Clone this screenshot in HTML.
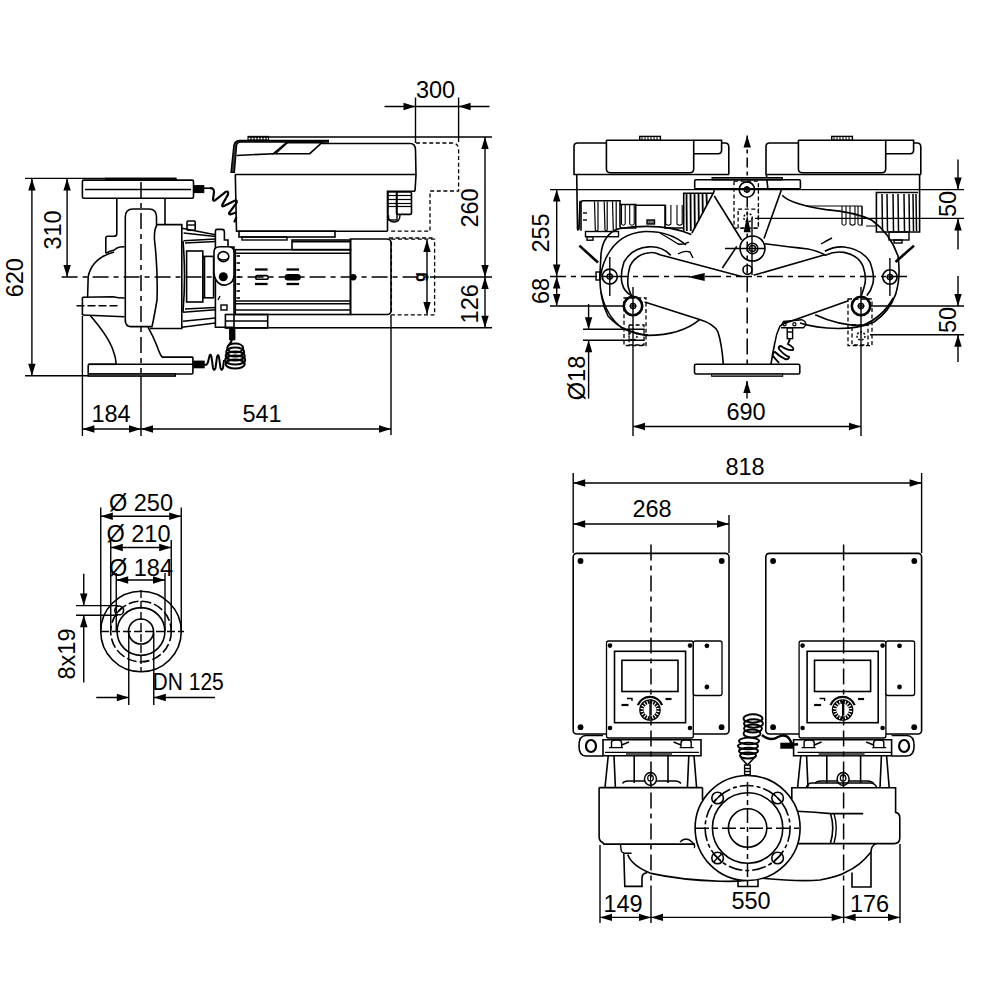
<!DOCTYPE html>
<html><head><meta charset="utf-8"><style>
html,body{margin:0;padding:0;background:#fff;width:1000px;height:1000px;overflow:hidden}
svg{display:block}
text{font-family:"Liberation Sans",sans-serif;fill:#000;stroke:none}
</style></head><body>
<svg width="1000" height="1000" viewBox="0 0 1000 1000" stroke="#000" fill="none" stroke-linecap="butt">
<line x1="25" y1="178.4" x2="176" y2="178.4" stroke-width="1.4"/>
<line x1="25" y1="375.7" x2="176" y2="375.7" stroke-width="1.4"/>
<line x1="31.9" y1="178.4" x2="31.9" y2="375.7" stroke-width="1.4"/>
<polygon points="31.9,178.4 28.2,190.4 35.6,190.4" fill="#000" stroke="none"/>
<polygon points="31.9,375.7 28.2,363.7 35.6,363.7" fill="#000" stroke="none"/>
<text x="0" y="0" font-size="23.5" text-anchor="middle" transform="translate(23.2,277.7) rotate(-90)">620</text>
<line x1="67.1" y1="178.4" x2="67.1" y2="277" stroke-width="1.4"/>
<polygon points="67.1,178.4 63.4,190.4 70.8,190.4" fill="#000" stroke="none"/>
<polygon points="67.1,277.0 63.4,265.0 70.8,265.0" fill="#000" stroke="none"/>
<text x="0" y="0" font-size="23.5" text-anchor="middle" transform="translate(61.4,230.0) rotate(-90)">310</text>
<line x1="61.6" y1="277" x2="430" y2="277" stroke-width="1.5" stroke-dasharray="16,5,5,5"/>
<line x1="430" y1="277" x2="492" y2="277" stroke-width="1.4"/>
<line x1="384.5" y1="106.5" x2="489.5" y2="106.5" stroke-width="1.4"/>
<polygon points="415.5,106.5 403.5,102.8 403.5,110.2" fill="#000" stroke="none"/>
<polygon points="458.6,106.5 470.6,102.8 470.6,110.2" fill="#000" stroke="none"/>
<line x1="415.5" y1="97.5" x2="415.5" y2="143" stroke-width="1.4"/>
<line x1="458.6" y1="97.5" x2="458.6" y2="142" stroke-width="1.4"/>
<text x="435.5" y="98.4" font-size="23.5" text-anchor="middle">300</text>
<line x1="248" y1="137" x2="492" y2="137" stroke-width="1.4"/>
<line x1="485" y1="137" x2="485" y2="327.8" stroke-width="1.4"/>
<polygon points="485.0,137.0 481.3,149.0 488.7,149.0" fill="#000" stroke="none"/>
<polygon points="485.0,277.0 481.3,265.0 488.7,265.0" fill="#000" stroke="none"/>
<polygon points="485.0,277.0 481.3,289.0 488.7,289.0" fill="#000" stroke="none"/>
<polygon points="485.0,327.8 481.3,315.8 488.7,315.8" fill="#000" stroke="none"/>
<text x="0" y="0" font-size="23.5" text-anchor="middle" transform="translate(478.4,208.0) rotate(-90)">260</text>
<text x="0" y="0" font-size="23.5" text-anchor="middle" transform="translate(478.4,303.8) rotate(-90)">126</text>
<line x1="226" y1="327.8" x2="492" y2="327.8" stroke-width="1.4"/>
<line x1="82.4" y1="316" x2="82.4" y2="436" stroke-width="1.4"/>
<line x1="141" y1="374" x2="141" y2="436" stroke-width="1.4"/>
<line x1="391" y1="315" x2="391" y2="435" stroke-width="1.4"/>
<line x1="82.4" y1="429" x2="391" y2="429" stroke-width="1.4"/>
<polygon points="82.4,429.0 94.4,425.3 94.4,432.7" fill="#000" stroke="none"/>
<polygon points="141.0,429.0 129.0,425.3 129.0,432.7" fill="#000" stroke="none"/>
<polygon points="141.0,429.0 153.0,425.3 153.0,432.7" fill="#000" stroke="none"/>
<polygon points="391.0,429.0 379.0,425.3 379.0,432.7" fill="#000" stroke="none"/>
<text x="111" y="422.4" font-size="23.5" text-anchor="middle">184</text>
<text x="262" y="422.4" font-size="23.5" text-anchor="middle">541</text>
<rect x="391.4" y="239.2" width="43.2" height="75.6" rx="0" stroke-width="1.3" fill="none" stroke-dasharray="4,2.6"/>
<line x1="427" y1="240" x2="427" y2="314" stroke-width="1.4"/>
<polygon points="427.0,240.0 423.3,252.0 430.7,252.0" fill="#000" stroke="none"/>
<polygon points="427.0,314.0 423.3,302.0 430.7,302.0" fill="#000" stroke="none"/>
<text x="0" y="0" font-size="16" font-weight="bold" text-anchor="middle" transform="translate(424.5,277) rotate(-90)">g</text>
<line x1="550" y1="189.6" x2="964" y2="189.6" stroke-width="1.4"/>
<line x1="556.7" y1="189.6" x2="556.7" y2="306" stroke-width="1.4"/>
<polygon points="556.7,189.6 553.0,201.6 560.4,201.6" fill="#000" stroke="none"/>
<polygon points="556.7,276.6 553.0,264.6 560.4,264.6" fill="#000" stroke="none"/>
<polygon points="556.7,276.6 553.0,288.6 560.4,288.6" fill="#000" stroke="none"/>
<polygon points="556.7,306.0 553.0,294.0 560.4,294.0" fill="#000" stroke="none"/>
<text x="0" y="0" font-size="23.5" text-anchor="middle" transform="translate(549.4,233.0) rotate(-90)">255</text>
<text x="0" y="0" font-size="23.5" text-anchor="middle" transform="translate(549.4,291.0) rotate(-90)">68</text>
<line x1="550" y1="276.6" x2="911" y2="276.6" stroke-width="1.5" stroke-dasharray="16,5,5,5"/>
<line x1="550" y1="306" x2="625" y2="306" stroke-width="1.4"/>
<line x1="755" y1="218.4" x2="964" y2="218.4" stroke-width="1.4"/>
<line x1="958" y1="159.6" x2="958" y2="189.6" stroke-width="1.4"/>
<polygon points="958.0,189.6 954.3,177.6 961.7,177.6" fill="#000" stroke="none"/>
<line x1="958" y1="218.4" x2="958" y2="249.6" stroke-width="1.4"/>
<polygon points="958.0,218.4 954.3,230.4 961.7,230.4" fill="#000" stroke="none"/>
<text x="0" y="0" font-size="23.5" text-anchor="middle" transform="translate(956.4,204.0) rotate(-90)">50</text>
<line x1="870" y1="306" x2="964" y2="306" stroke-width="1.4"/>
<line x1="870" y1="334.8" x2="964" y2="334.8" stroke-width="1.4"/>
<line x1="958" y1="276" x2="958" y2="306" stroke-width="1.4"/>
<polygon points="958.0,306.0 954.3,294.0 961.7,294.0" fill="#000" stroke="none"/>
<line x1="958" y1="334.8" x2="958" y2="362" stroke-width="1.4"/>
<polygon points="958.0,334.8 954.3,346.8 961.7,346.8" fill="#000" stroke="none"/>
<text x="0" y="0" font-size="23.5" text-anchor="middle" transform="translate(956.4,320.0) rotate(-90)">50</text>
<line x1="583" y1="329.3" x2="644.7" y2="329.3" stroke-width="1.4"/>
<line x1="583" y1="340.3" x2="644.7" y2="340.3" stroke-width="1.4"/>
<line x1="588.6" y1="304" x2="588.6" y2="329.3" stroke-width="1.4"/>
<polygon points="588.6,329.3 584.9,317.3 592.3,317.3" fill="#000" stroke="none"/>
<line x1="588.6" y1="340.3" x2="588.6" y2="398.6" stroke-width="1.4"/>
<polygon points="588.6,340.3 584.9,352.3 592.3,352.3" fill="#000" stroke="none"/>
<text x="0" y="0" font-size="23.5" text-anchor="middle" transform="translate(585.4,378.0) rotate(-90)">Ø18</text>
<line x1="633" y1="306" x2="633" y2="436" stroke-width="1.4"/>
<line x1="861" y1="306" x2="861" y2="436" stroke-width="1.4"/>
<line x1="633" y1="426.5" x2="861" y2="426.5" stroke-width="1.4"/>
<polygon points="633.0,426.5 645.0,422.8 645.0,430.2" fill="#000" stroke="none"/>
<polygon points="861.0,426.5 849.0,422.8 849.0,430.2" fill="#000" stroke="none"/>
<text x="746" y="420.4" font-size="23.5" text-anchor="middle">690</text>
<line x1="747" y1="381" x2="747" y2="398.6" stroke-width="1.4"/>
<polygon points="747.0,381.0 743.3,393.0 750.7,393.0" fill="#000" stroke="none"/>
<line x1="747.2" y1="135.4" x2="747.2" y2="177.7" stroke-width="1.5" stroke-dasharray="10,4,4,4"/>
<polygon points="747.2,135.4 743.5,147.4 750.9,147.4" fill="#000" stroke="none"/>
<line x1="573.2" y1="473" x2="573.2" y2="553" stroke-width="1.4"/>
<line x1="921.6" y1="473" x2="921.6" y2="553" stroke-width="1.4"/>
<line x1="729" y1="515" x2="729" y2="553" stroke-width="1.4"/>
<line x1="573.2" y1="483" x2="921.6" y2="483" stroke-width="1.4"/>
<polygon points="573.2,483.0 585.2,479.3 585.2,486.7" fill="#000" stroke="none"/>
<polygon points="921.6,483.0 909.6,479.3 909.6,486.7" fill="#000" stroke="none"/>
<line x1="573.2" y1="524" x2="729" y2="524" stroke-width="1.4"/>
<polygon points="573.2,524.0 585.2,520.3 585.2,527.7" fill="#000" stroke="none"/>
<polygon points="729.0,524.0 717.0,520.3 717.0,527.7" fill="#000" stroke="none"/>
<text x="745" y="474.9" font-size="23.5" text-anchor="middle">818</text>
<text x="652" y="516.9" font-size="23.5" text-anchor="middle">268</text>
<line x1="600" y1="845" x2="600" y2="923" stroke-width="1.4"/>
<line x1="900" y1="844" x2="900" y2="923" stroke-width="1.4"/>
<line x1="651" y1="887" x2="651" y2="923" stroke-width="1.4"/>
<line x1="843.6" y1="887" x2="843.6" y2="923" stroke-width="1.4"/>
<line x1="600" y1="917.4" x2="900" y2="917.4" stroke-width="1.4"/>
<polygon points="600.0,917.4 612.0,913.7 612.0,921.1" fill="#000" stroke="none"/>
<polygon points="651.0,917.4 639.0,913.7 639.0,921.1" fill="#000" stroke="none"/>
<polygon points="651.0,917.4 663.0,913.7 663.0,921.1" fill="#000" stroke="none"/>
<polygon points="843.6,917.4 831.6,913.7 831.6,921.1" fill="#000" stroke="none"/>
<polygon points="843.6,917.4 855.6,913.7 855.6,921.1" fill="#000" stroke="none"/>
<polygon points="900.0,917.4 888.0,913.7 888.0,921.1" fill="#000" stroke="none"/>
<text x="623" y="911.9" font-size="23.5" text-anchor="middle">149</text>
<text x="751" y="909.4" font-size="23.5" text-anchor="middle">550</text>
<text x="869.5" y="911.9" font-size="23.5" text-anchor="middle">176</text>
<line x1="100.75" y1="507.5" x2="100.75" y2="631" stroke-width="1.4"/>
<line x1="181.25" y1="507.5" x2="181.25" y2="631" stroke-width="1.4"/>
<line x1="100.75" y1="516.25" x2="181.25" y2="516.25" stroke-width="1.4"/>
<polygon points="100.8,516.2 112.8,512.5 112.8,520.0" fill="#000" stroke="none"/>
<polygon points="181.2,516.2 169.2,512.5 169.2,520.0" fill="#000" stroke="none"/>
<line x1="110.75" y1="540" x2="110.75" y2="631" stroke-width="1.4"/>
<line x1="171.25" y1="540" x2="171.25" y2="631" stroke-width="1.4"/>
<line x1="110.75" y1="547.5" x2="171.25" y2="547.5" stroke-width="1.4"/>
<polygon points="110.8,547.5 122.8,543.8 122.8,551.2" fill="#000" stroke="none"/>
<polygon points="171.2,547.5 159.2,543.8 159.2,551.2" fill="#000" stroke="none"/>
<line x1="116.25" y1="573" x2="116.25" y2="631" stroke-width="1.4"/>
<line x1="165" y1="573" x2="165" y2="631" stroke-width="1.4"/>
<line x1="116.25" y1="580" x2="165" y2="580" stroke-width="1.4"/>
<polygon points="116.2,580.0 128.2,576.3 128.2,583.7" fill="#000" stroke="none"/>
<polygon points="165.0,580.0 153.0,576.3 153.0,583.7" fill="#000" stroke="none"/>
<text x="141" y="511.4" font-size="23.5" text-anchor="middle">Ø 250</text>
<text x="138.5" y="541.9" font-size="23.5" text-anchor="middle">Ø 210</text>
<text x="141" y="575.9" font-size="23.5" text-anchor="middle">Ø 184</text>
<line x1="76" y1="605.6" x2="118" y2="605.6" stroke-width="1.4"/>
<line x1="76" y1="615.3" x2="118" y2="615.3" stroke-width="1.4"/>
<line x1="83.75" y1="573.75" x2="83.75" y2="605.6" stroke-width="1.4"/>
<polygon points="83.8,605.6 80.0,593.6 87.5,593.6" fill="#000" stroke="none"/>
<line x1="83.75" y1="615.3" x2="83.75" y2="682.5" stroke-width="1.4"/>
<polygon points="83.8,615.3 80.0,627.3 87.5,627.3" fill="#000" stroke="none"/>
<text x="0" y="0" font-size="23.5" text-anchor="middle" transform="translate(75.4,654.0) rotate(-90)">8x19</text>
<line x1="128.75" y1="632.5" x2="128.75" y2="705" stroke-width="1.4"/>
<line x1="153.75" y1="632.5" x2="153.75" y2="705" stroke-width="1.4"/>
<line x1="96.25" y1="697.5" x2="128.75" y2="697.5" stroke-width="1.4"/>
<polygon points="128.8,697.5 116.8,693.8 116.8,701.2" fill="#000" stroke="none"/>
<line x1="153.75" y1="697.5" x2="215" y2="697.5" stroke-width="1.4"/>
<polygon points="153.8,697.5 165.8,693.8 165.8,701.2" fill="#000" stroke="none"/>
<text x="152.5" y="690.4" font-size="23.5" textLength="71.3" lengthAdjust="spacingAndGlyphs">DN 125</text>
<circle cx="141" cy="631.5" r="40.25" stroke-width="1.6" fill="none"/>
<circle cx="141" cy="631.5" r="30.3" stroke-width="1.6" fill="none" stroke-dasharray="10,3"/>
<circle cx="141" cy="631.5" r="23.9" stroke-width="1.6" fill="none"/>
<circle cx="141" cy="631.5" r="12.5" stroke-width="1.6" fill="none"/>
<circle cx="119.2" cy="610.4" r="4.4" stroke-width="1.6" fill="none"/>
<line x1="116.5" y1="613.5" x2="122" y2="607.3" stroke-width="1.4"/>
<line x1="101" y1="631.5" x2="184" y2="631.5" stroke-width="1.4" stroke-dasharray="8,3"/>
<line x1="141" y1="590" x2="141" y2="672" stroke-width="1.4" stroke-dasharray="8,3"/>
<rect x="105.8" y="178.4" width="70.2" height="1.6" rx="0" stroke-width="1.4" fill="#999"/>
<rect x="82.4" y="180.1" width="111.1" height="18.2" rx="1.5" stroke-width="1.6" fill="none"/>
<line x1="85" y1="189.5" x2="191" y2="189.5" stroke-width="1.6"/>
<path d="M116.8,198.3 V233.7 Q116.8,236.3 114,236.3 H107.5 Q105.8,236.3 105.8,238 V253.2" stroke-width="1.6" fill="none"/>
<line x1="165" y1="198.3" x2="165" y2="224.6" stroke-width="1.6"/>
<path d="M105.8,253.2 Q110,251 114.2,250 Q117,247.4 120,247 L124.6,246.7" stroke-width="1.6" fill="none"/>
<path d="M114.2,252 Q92,258 88.2,276.6 L87.6,297.3" stroke-width="1.6" fill="none"/>
<path d="M82.4,297.3 L113,296.7 Q118,298 124.6,298" stroke-width="1.6" fill="none"/>
<line x1="82.4" y1="297.3" x2="82.4" y2="315" stroke-width="1.6"/>
<line x1="82.4" y1="315" x2="124.6" y2="316.8" stroke-width="1.6"/>
<line x1="76.5" y1="305.8" x2="118" y2="305.8" stroke-width="1.4" stroke-dasharray="8,3"/>
<path d="M90.2,315.5 Q108,336 113,350 Q116,358 116.2,364.3" stroke-width="1.6" fill="none"/>
<path d="M148,327.2 Q153,336 157,346 Q160,355 162.3,357.1 H192.9" stroke-width="1.6" fill="none"/>
<path d="M88.2,364.3 H116.2" stroke-width="1.6" fill="none"/>
<rect x="88.2" y="364.3" width="104.7" height="9.7" rx="1.2" stroke-width="1.6" fill="none"/>
<line x1="192.9" y1="357.1" x2="192.9" y2="365" stroke-width="1.6"/>
<rect x="88.2" y="374" width="87.1" height="2" rx="0" stroke-width="1.4" fill="#999"/>
<path d="M125.3,322 V217 Q125.3,209 133,209 H149 Q156.5,209 156.5,217 V226 Q154,230 154.5,240 Q158,270 157,300 Q154,318 152,326.6 H131 Q125.3,326.6 125.3,320" stroke-width="1.6" fill="none"/>
<path d="M156.5,224.6 H181.8 V328.5 H150" stroke-width="1.6" fill="none"/>
<line x1="181.8" y1="228.2" x2="215.4" y2="234.8" stroke-width="1.6"/>
<line x1="183.6" y1="233" x2="215.4" y2="236.5" stroke-width="1.6"/>
<line x1="183.6" y1="240.8" x2="215.4" y2="239" stroke-width="1.6"/>
<line x1="185" y1="243" x2="215.4" y2="241.5" stroke-width="1.4"/>
<line x1="183" y1="312.2" x2="215.4" y2="309.8" stroke-width="1.6"/>
<line x1="183" y1="321.2" x2="215.4" y2="318" stroke-width="1.6"/>
<line x1="181.8" y1="327.2" x2="215.4" y2="323" stroke-width="1.6"/>
<line x1="185" y1="309" x2="215.4" y2="307.5" stroke-width="1.4"/>
<path d="M183,241 Q186,276 183,312" stroke-width="1.6" fill="none"/>
<rect x="186.6" y="251" width="16.2" height="51" rx="0" stroke-width="1.6" fill="none"/>
<rect x="202.8" y="256.4" width="10.8" height="41.4" rx="0" stroke-width="1.6" fill="none"/>
<line x1="204.6" y1="256.4" x2="204.6" y2="297.8" stroke-width="1.4"/>
<rect x="187" y="221" width="8.2" height="9.2" rx="1" stroke-width="1.6" fill="none"/>
<line x1="187" y1="225" x2="195.2" y2="225" stroke-width="1.4"/>
<path d="M215.4,327.2 V231 Q215.4,229.4 217,229.4 H222 Q224.4,229.4 224.4,232 V240 H228 V247 H234 V327.2 Z" stroke-width="1.6" fill="none"/>
<path d="M214,252 Q214,246.8 220,246.8 H228 Q234,246.8 234,252 V275 Q234,283.4 226,285 Q220,286 216,280 Q214,277 214,272 Z" stroke-width="1.6" fill="#fff"/>
<ellipse cx="223.4" cy="256.6" rx="5.4" ry="5" stroke-width="1.6"/>
<path d="M218,258 Q223,262 229,258" stroke-width="1.4" fill="none"/>
<circle cx="223.3" cy="276.8" r="4.5" fill="#000" stroke="none"/>
<line x1="218" y1="300" x2="220" y2="296" stroke-width="1.4"/>
<rect x="221" y="305" width="6" height="5" rx="0" stroke-width="1.4" fill="none"/>
<rect x="235.3" y="249.7" width="115.2" height="64.8" rx="0" stroke-width="1.6" fill="none"/>
<line x1="235.3" y1="253.3" x2="350.5" y2="253.3" stroke-width="1.6"/>
<line x1="235.3" y1="301" x2="350.5" y2="301" stroke-width="1.6"/>
<line x1="235.3" y1="303.7" x2="350.5" y2="303.7" stroke-width="1.6"/>
<line x1="235.3" y1="310" x2="350.5" y2="310" stroke-width="1.6"/>
<rect x="292" y="240" width="58.5" height="9.7" rx="0" stroke-width="1.6" fill="none"/>
<line x1="292" y1="241.6" x2="350.5" y2="241.6" stroke-width="1.6"/>
<line x1="236.5" y1="256" x2="240" y2="256" stroke-width="1.6"/>
<line x1="236.5" y1="263" x2="240" y2="263" stroke-width="1.6"/>
<line x1="236.5" y1="270" x2="240" y2="270" stroke-width="1.6"/>
<line x1="236.5" y1="277" x2="240" y2="277" stroke-width="1.6"/>
<line x1="236.5" y1="284" x2="240" y2="284" stroke-width="1.6"/>
<line x1="236.5" y1="291" x2="240" y2="291" stroke-width="1.6"/>
<line x1="236.5" y1="298" x2="240" y2="298" stroke-width="1.6"/>
<line x1="255.0" y1="269.5" x2="267.6" y2="269.5" stroke-width="2.3"/>
<line x1="255.0" y1="284" x2="267.6" y2="284" stroke-width="2.3"/>
<line x1="286.5" y1="269.5" x2="299.1" y2="269.5" stroke-width="2.3"/>
<line x1="286.5" y1="284" x2="299.1" y2="284" stroke-width="2.3"/>
<rect x="255.6" y="275.6" width="12.6" height="3.6" rx="1.8" stroke-width="1.6" fill="none"/>
<rect x="285.7" y="275" width="14" height="4.4" rx="2.2" stroke-width="2.2" fill="#000"/>
<circle cx="353.2" cy="277.2" r="3.2" fill="#000" stroke="none"/>
<path d="M350.5,239 H387 Q391,239 391,243 V310.5 Q391,314.5 387,314.5 H350.5 Z" stroke-width="1.6" fill="none"/>
<rect x="225.4" y="314.5" width="42.3" height="13.5" rx="0" stroke-width="1.6" fill="none"/>
<line x1="225.4" y1="321" x2="267.7" y2="321" stroke-width="1.6"/>
<rect x="239" y="231.2" width="96" height="5.8" rx="0" stroke-width="1.6" fill="none"/>
<rect x="242" y="237" width="45" height="3" rx="0" stroke-width="1.4" fill="none"/>
<path d="M322,143.5 H410 Q415.5,143.5 415.5,150 L416,175 L415,191.2 M387.5,231.2 H236.5 L235.3,174.5" stroke-width="1.6" fill="none"/>
<line x1="234.9" y1="174.5" x2="416" y2="174.5" stroke-width="1.6"/>
<path d="M231,172.4 L233.8,145.4 Q235,140.5 240,140.5 H328.4 V142.1 H241 Q237,142.1 236.6,145.4 L234.4,172.4 Z" stroke-width="1.3" fill="#333"/>
<path d="M273.4,153.7 L286.6,142.6 H322 L309.7,153.7 Z" stroke-width="1.6" fill="none"/>
<line x1="275.5" y1="153.7" x2="288" y2="142.4" stroke-width="1.2"/>
<path d="M236.6,155.5 L273.4,153.7" stroke-width="1.6" fill="none"/>
<rect x="248" y="136.4" width="20.5" height="3.7" rx="0" stroke-width="1.1" fill="none"/>
<line x1="251" y1="136.4" x2="251" y2="140.1" stroke-width="1.2"/>
<line x1="254" y1="136.4" x2="254" y2="140.1" stroke-width="1.2"/>
<line x1="257" y1="136.4" x2="257" y2="140.1" stroke-width="1.2"/>
<line x1="260" y1="136.4" x2="260" y2="140.1" stroke-width="1.2"/>
<line x1="263" y1="136.4" x2="263" y2="140.1" stroke-width="1.2"/>
<line x1="266" y1="136.4" x2="266" y2="140.1" stroke-width="1.2"/>
<path d="M387.5,231.2 V191.2 H415" stroke-width="1.6" fill="none"/>
<rect x="388" y="192" width="9" height="28" rx="0" stroke-width="1.4" fill="none"/>
<rect x="396.5" y="192" width="15" height="22.4" rx="1.5" stroke-width="1.6" fill="none"/>
<line x1="388" y1="195.5" x2="411.5" y2="195.5" stroke-width="1.2"/>
<line x1="388" y1="199.5" x2="411.5" y2="199.5" stroke-width="1.2"/>
<line x1="388" y1="203.5" x2="411.5" y2="203.5" stroke-width="1.2"/>
<line x1="388" y1="206.5" x2="411.5" y2="206.5" stroke-width="1.2"/>
<path d="M388.5,215 Q388,222 394,222 Q400,222 400,215" stroke-width="1.4" fill="none"/>
<path d="M416,143 H452 Q458.6,143 458.6,150 V191 H430 V231.2 H389" stroke-width="1.3" fill="none" stroke-dasharray="4,2.6"/>
<line x1="389" y1="238" x2="434" y2="238" stroke-width="1.3" stroke-dasharray="4,2.6"/>
<rect x="194" y="185.8" width="9.6" height="6.6" rx="0" stroke-width="1.4" fill="#000"/>
<line x1="203.6" y1="188.2" x2="210" y2="188.2" stroke-width="1.6"/>
<path d="M210,188.2 Q214,188 214,192 L213,199.5 Q213.2,201.5 215,200.3 L225,192.3 Q229,190 228,194.5 L222.3,204.8 Q221.5,207 224,206 L235,200.5 Q237.5,199.8 236.5,203 L229.2,212.8 Q228.5,215 231,214.2 L236,212.5 M236.5,217 L234.2,222.4" stroke-width="2.2" fill="none"/>
<rect x="229.8" y="328.4" width="4.9" height="11.2" rx="0" stroke-width="1.4" fill="#000"/>
<line x1="232.2" y1="330" x2="232.2" y2="338" stroke-width="1.2"/>
<rect x="194" y="361.3" width="10" height="6.3" rx="0" stroke-width="1.4" fill="#000"/>
<path d="M204,364.4 Q207,366 208,362 L209.5,356 Q210.5,353 211.5,357 L213,368 Q214,372 215.5,368 L217,357 Q218,353 219,357 L220.5,368 Q221.5,372 223,368 L224,360" stroke-width="2.0" fill="none"/>
<ellipse cx="235.2" cy="348" rx="8" ry="4.6" stroke-width="2.0"/>
<ellipse cx="235.2" cy="352" rx="9" ry="4.6" stroke-width="2.0"/>
<ellipse cx="235.2" cy="356" rx="9.5" ry="4.6" stroke-width="2.0"/>
<ellipse cx="235.2" cy="360" rx="10" ry="4.6" stroke-width="2.0"/>
<ellipse cx="235.2" cy="364" rx="9.5" ry="4.6" stroke-width="2.0"/>
<path d="M232,339.6 Q231,343 228,346" stroke-width="2.0" fill="none"/>
<line x1="141" y1="182" x2="141" y2="374" stroke-width="1.5" stroke-dasharray="16,5,5,5"/>
<g transform="translate(0,0)">
<path d="M574,174.5 V146.5 Q574,143 577.5,143 H606.4" stroke-width="1.6" fill="none"/>
<path d="M721.6,143 H725 Q728.8,143 728.8,147 V174.5" stroke-width="1.6" fill="none"/>
<path d="M606.4,140.3 H721.6 V150 Q721.6,153.8 718,153.8 H693.7" stroke-width="1.6" fill="none"/>
<path d="M606.4,140.3 V168.7 Q606.4,172.7 610.4,172.7 H689.7 Q693.7,172.7 693.7,168.7 V140.3" stroke-width="1.6" fill="none"/>
<line x1="573.5" y1="174.5" x2="729" y2="174.5" stroke-width="1.6"/>
<rect x="639.7" y="136.4" width="20.7" height="3.9" rx="0" stroke-width="1.4" fill="none"/>
<line x1="642" y1="136.4" x2="642" y2="140.3" stroke-width="1.0"/>
<line x1="645" y1="136.4" x2="645" y2="140.3" stroke-width="1.0"/>
<line x1="648" y1="136.4" x2="648" y2="140.3" stroke-width="1.0"/>
<line x1="651" y1="136.4" x2="651" y2="140.3" stroke-width="1.0"/>
<line x1="654" y1="136.4" x2="654" y2="140.3" stroke-width="1.0"/>
<line x1="657" y1="136.4" x2="657" y2="140.3" stroke-width="1.0"/>
</g>
<g transform="translate(192,0)">
<path d="M574,174.5 V146.5 Q574,143 577.5,143 H606.4" stroke-width="1.6" fill="none"/>
<path d="M721.6,143 H725 Q728.8,143 728.8,147 V174.5" stroke-width="1.6" fill="none"/>
<path d="M606.4,140.3 H721.6 V150 Q721.6,153.8 718,153.8 H693.7" stroke-width="1.6" fill="none"/>
<path d="M606.4,140.3 V168.7 Q606.4,172.7 610.4,172.7 H689.7 Q693.7,172.7 693.7,168.7 V140.3" stroke-width="1.6" fill="none"/>
<line x1="573.5" y1="174.5" x2="729" y2="174.5" stroke-width="1.6"/>
<rect x="639.7" y="136.4" width="20.7" height="3.9" rx="0" stroke-width="1.4" fill="none"/>
<line x1="642" y1="136.4" x2="642" y2="140.3" stroke-width="1.0"/>
<line x1="645" y1="136.4" x2="645" y2="140.3" stroke-width="1.0"/>
<line x1="648" y1="136.4" x2="648" y2="140.3" stroke-width="1.0"/>
<line x1="651" y1="136.4" x2="651" y2="140.3" stroke-width="1.0"/>
<line x1="654" y1="136.4" x2="654" y2="140.3" stroke-width="1.0"/>
<line x1="657" y1="136.4" x2="657" y2="140.3" stroke-width="1.0"/>
</g>
<g transform="translate(0,0)">
<path d="M576.7,174.5 L577.5,229 Q578,231 579,229 L580,200.7" stroke-width="1.6" fill="none"/>
<path d="M581,230.7 V203 Q581,200.7 583,200.7 H620 V226 Q620,228 622,228 H635.7 V204.5 H620" stroke-width="1.6" fill="none"/>
<path d="M594.5,201.5 L595.3,230 Q596.65,232 598,230 L598,201.5" stroke-width="1.2" fill="none"/>
<path d="M604.2,201.5 L605.0,230 Q606.1,232 607.2,230 L607.2,201.5" stroke-width="1.2" fill="none"/>
<path d="M612.5,201.5 L613.3,230 Q614.75,232 616.2,230 L616.2,201.5" stroke-width="1.2" fill="none"/>
<path d="M621.5,205 V224 Q623.35,226.5 625.2,224 V205" stroke-width="1.1" fill="none"/>
<path d="M629.7,205 V224 Q631.95,226.5 634.2,224 V205" stroke-width="1.1" fill="none"/>
<line x1="583" y1="213" x2="587" y2="213" stroke-width="1.4"/>
<line x1="583" y1="220" x2="587" y2="220" stroke-width="1.4"/>
<rect x="585.5" y="231.5" width="33" height="5.2" rx="0" stroke-width="1.4" fill="none"/>
<rect x="587" y="236.7" width="6" height="3.5" rx="0" stroke-width="1.4" fill="none"/>
<path d="M635.7,205.2 H665 V228 H683" stroke-width="1.6" fill="none"/>
<rect x="647" y="220" width="7.5" height="4" rx="0" stroke-width="1.4" fill="#777"/>
<path d="M665.7,205 V224 Q668.3,226.5 670.9,224 V205" stroke-width="1.1" fill="none"/>
<path d="M677,205 V224 Q679.6,226.5 682.2,224 V205" stroke-width="1.1" fill="none"/>
<path d="M683.7,231.5 V193.2 H714" stroke-width="1.6" fill="none"/>
<path d="M686.5,194 L686.8,231.0" stroke-width="1.8" fill="none"/>
<path d="M690.5,194 L690.8,231.0" stroke-width="1.8" fill="none"/>
<path d="M694.5,194 L694.8,227.9" stroke-width="1.8" fill="none"/>
<path d="M698.5,194 L698.8,220.2" stroke-width="1.8" fill="none"/>
<path d="M702.5,194 L702.8,212.4" stroke-width="1.8" fill="none"/>
<path d="M706.5,194 L706.8,204.6" stroke-width="1.8" fill="none"/>
</g>
<path d="M919.6,174.5 V232 H876.4 V192.5 H918" stroke-width="1.6" fill="none"/>
<path d="M882,194 L882.5,231" stroke-width="1.5" fill="none"/>
<path d="M887,194 L887.5,231" stroke-width="1.5" fill="none"/>
<path d="M893,194 L893.5,231" stroke-width="1.5" fill="none"/>
<path d="M898,194 L898.5,231" stroke-width="1.5" fill="none"/>
<path d="M904,194 L904.5,231" stroke-width="1.5" fill="none"/>
<path d="M909,194 L909.5,231" stroke-width="1.5" fill="none"/>
<path d="M913,194 L913.5,231" stroke-width="1.5" fill="none"/>
<path d="M916,194 L916.5,231" stroke-width="1.5" fill="none"/>
<rect x="889" y="232" width="20" height="8" rx="0" stroke-width="1.4" fill="none"/>
<rect x="894" y="240" width="8" height="3" rx="0" stroke-width="1.4" fill="none"/>
<path d="M806,206 H862 V226 M866,226 H876" stroke-width="1.0" fill="none"/>
<path d="M842,206 V224 Q844.0,226.5 846,224 V206" stroke-width="1.1" fill="none"/>
<path d="M850,206 V224 Q852.5,226.5 855,224 V206" stroke-width="1.1" fill="none"/>
<path d="M858,206 V224 Q860.0,226.5 862,224 V206" stroke-width="1.1" fill="none"/>
<line x1="766.4" y1="174.5" x2="768" y2="190" stroke-width="1.6"/>
<rect x="712.2" y="177.7" width="70" height="2.1" rx="0" stroke-width="1.4" fill="#888"/>
<rect x="694.7" y="179.8" width="105.7" height="9.1" rx="1.2" stroke-width="1.6" fill="none"/>
<rect x="734" y="181.2" width="24.4" height="46.9" rx="0" stroke-width="1.3" fill="none" stroke-dasharray="4,2.6"/>
<rect x="738.1" y="209.2" width="20.3" height="18.9" rx="0" stroke-width="1.3" fill="none" stroke-dasharray="4,2.6"/>
<circle cx="746.9" cy="189.6" r="7.7" stroke-width="1.6" fill="none"/>
<circle cx="746.9" cy="189.6" r="2.6" stroke-width="1.4" fill="none"/>
<line x1="743.4" y1="189.6" x2="750.4" y2="189.6" stroke-width="1.4"/>
<line x1="746.9" y1="186.1" x2="746.9" y2="193.1" stroke-width="1.4"/>
<circle cx="748" cy="217.6" r="4.2" stroke-width="1.4" fill="none" stroke-dasharray="2,1.5"/>
<polygon points="747.2,214.8 743.7,232.3 750.7,232.3" fill="#000" stroke="none"/>
<line x1="747.2" y1="197.5" x2="747.2" y2="276.6" stroke-width="1.5" stroke-dasharray="10,4,4,4"/>
<line x1="747.2" y1="276.6" x2="747.2" y2="364.2" stroke-width="1.5" stroke-dasharray="16,5,5,5"/>
<path d="M714.3,189.5 Q714,193 712.5,194.5 L691.9,233" stroke-width="1.6" fill="none"/>
<line x1="714.3" y1="196" x2="741.6" y2="240" stroke-width="1.6"/>
<line x1="781.5" y1="189.6" x2="764" y2="238.6" stroke-width="1.6"/>
<circle cx="752.5" cy="248.5" r="12.5" stroke-width="1.6" fill="none"/>
<circle cx="752.5" cy="248.5" r="5.3" stroke-width="1.6" fill="none"/>
<circle cx="752.5" cy="248.5" r="3" stroke-width="1.4" fill="none"/>
<line x1="725" y1="248.5" x2="765" y2="248.5" stroke-width="1.4"/>
<circle cx="747.5" cy="269.8" r="4.5" stroke-width="1.6" fill="none"/>
<path d="M691.4,234.5 Q662,222 618.6,228.7 Q603,234 601,254 L599.8,277 Q600,300 608,316 Q622,332 645,335.3 Q680,336 699.6,319.6" stroke-width="1.6" fill="none"/>
<path d="M686,245 Q670,231 645,231.5 Q618,233 606,258 Q601,268 600.5,280" stroke-width="1.6" fill="none"/>
<path d="M601,292 Q606,316 622,328 Q636,334 648,335" stroke-width="1.4" fill="none"/>
<path d="M670.8,255.4 Q662,246 648.5,246.9 Q632,248 624,262 Q620,274 622,283 Q624,292 632,296" stroke-width="1.6" fill="none"/>
<path d="M649.8,252.7 Q636,254 630,266 Q627,276 628,286 Q630,294 633,298" stroke-width="1.6" fill="none"/>
<path d="M649.8,252.7 Q654,252 660,254.8 L741.6,276.4" stroke-width="1.6" fill="none"/>
<path d="M644.6,302 L699.6,319.6 Q714,324 718,332 Q722,345 723.3,364.2" stroke-width="1.6" fill="none"/>
<path d="M660,233 Q672,240 678,244 Q684,245 688.8,242.2" stroke-width="1.4" fill="none"/>
<path d="M678,254 Q684,250 690,252 L693,258" stroke-width="1.4" fill="none"/>
<line x1="722.4" y1="268" x2="736.8" y2="246.4" stroke-width="1.6"/>
<line x1="752" y1="218.3" x2="752" y2="275" stroke-width="1.4"/>
<path d="M782.2,195.2 Q790,204 826,209.6 Q855,212 871.6,220 Q890,233 898,256 Q901,277 895.6,294.4 Q889,312 874,322 Q860,328.5 838,328.5 Q815,328 800,323" stroke-width="1.6" fill="none"/>
<path d="M815.2,314.8 Q838,325.5 862,325.6 Q882,318 893.2,298" stroke-width="1.6" fill="none"/>
<path d="M824.8,251.2 Q835,246 844,247 Q862,249 870,262 Q875,276 872.8,284 Q871,291 866.8,295.6" stroke-width="1.6" fill="none"/>
<path d="M824.8,255.4 Q835,251 844,252.4 Q858,255 863,266 Q867,278 864.4,286 Q863,291 861.4,295.6" stroke-width="1.6" fill="none"/>
<path d="M764.8,243.8 Q790,247 808,249 Q818,251 825,255" stroke-width="1.6" fill="none"/>
<path d="M753.6,275.2 L824.8,254.8" stroke-width="1.6" fill="none"/>
<path d="M848.4,300.8 L787.2,322.4 Q782,324 780,326 Q776,334 774.6,344 Q772.5,354 771,364.2" stroke-width="1.6" fill="none"/>
<path d="M821,244 Q826,241 832,238" stroke-width="1.4" fill="none"/>
<circle cx="609.8" cy="276.6" r="7.5" stroke-width="1.6" fill="none"/>
<circle cx="609.8" cy="276.6" r="2.6" stroke-width="1.4" fill="none"/>
<line x1="606.3" y1="276.6" x2="613.3" y2="276.6" stroke-width="1.4"/>
<line x1="609.8" y1="273.1" x2="609.8" y2="280.1" stroke-width="1.4"/>
<line x1="609.8" y1="257" x2="609.8" y2="296" stroke-width="1.4"/>
<circle cx="889.9" cy="277" r="7.2" stroke-width="1.6" fill="none"/>
<circle cx="889.9" cy="277" r="2.6" stroke-width="1.4" fill="none"/>
<line x1="886.4" y1="277" x2="893.4" y2="277" stroke-width="1.4"/>
<line x1="889.9" y1="273.5" x2="889.9" y2="280.5" stroke-width="1.4"/>
<line x1="889.9" y1="258" x2="889.9" y2="296" stroke-width="1.4"/>
<circle cx="633" cy="306" r="9.2" stroke-width="2.6" fill="none"/>
<circle cx="633" cy="306" r="2.6" stroke-width="1.4" fill="none"/>
<line x1="629.5" y1="306" x2="636.5" y2="306" stroke-width="1.4"/>
<line x1="633" y1="302.5" x2="633" y2="309.5" stroke-width="1.4"/>
<circle cx="861" cy="306" r="9.2" stroke-width="2.6" fill="none"/>
<circle cx="861" cy="306" r="2.6" stroke-width="1.4" fill="none"/>
<line x1="857.5" y1="306" x2="864.5" y2="306" stroke-width="1.4"/>
<line x1="861" y1="302.5" x2="861" y2="309.5" stroke-width="1.4"/>
<line x1="633" y1="287" x2="633" y2="306" stroke-width="1.4"/>
<line x1="861" y1="287" x2="861" y2="306" stroke-width="1.4"/>
<rect x="624" y="298" width="22" height="47.5" rx="0" stroke-width="1.3" fill="none" stroke-dasharray="4,2.6"/>
<rect x="629" y="325" width="15" height="20" rx="0" stroke-width="1.3" fill="none" stroke-dasharray="4,2.6"/>
<rect x="848" y="299" width="24" height="46.6" rx="0" stroke-width="1.3" fill="none" stroke-dasharray="4,2.6"/>
<rect x="852" y="325" width="16" height="20" rx="0" stroke-width="1.3" fill="none" stroke-dasharray="4,2.6"/>
<circle cx="633" cy="336" r="4" stroke-width="1.4" fill="none" stroke-dasharray="2,1.5"/>
<circle cx="861" cy="336" r="4" stroke-width="1.4" fill="none" stroke-dasharray="2,1.5"/>
<rect x="596" y="272" width="4" height="8" rx="0" stroke-width="1.4" fill="none"/>
<line x1="579.4" y1="245.6" x2="598" y2="262.5" stroke-width="2.6"/>
<line x1="914" y1="245.6" x2="895.5" y2="262" stroke-width="2.6"/>
<polygon points="687.5,277 704.7,273 704.7,281" fill="#000" stroke="none"/>
<rect x="694.5" y="364.2" width="105.3" height="9.8" rx="1.5" stroke-width="1.6" fill="none"/>
<rect x="711.6" y="374" width="71.1" height="2.3" rx="0" stroke-width="1.0" fill="#888"/>
<path d="M781,326 L783.6,321.5 L801.6,319.7 Q806,321 806,325 L803.4,327.8 H781" stroke-width="1.4" fill="none"/>
<circle cx="784.5" cy="324.2" r="1.6" stroke-width="1.2" fill="none"/>
<circle cx="794.4" cy="324.2" r="1.6" stroke-width="1.2" fill="none"/>
<rect x="787.2" y="327.8" width="5.4" height="10.8" rx="0" stroke-width="1.4" fill="none"/>
<line x1="787.2" y1="332" x2="792.6" y2="332" stroke-width="1.4"/>
<path d="M790,338.6 L788,344 Q795,348 793,350 Q788,351 781,346 Q778,346 779,349 Q784,355 789,357 Q789,360 785,359 Q779,356 775,352 Q772,352 773,356 L779,363" stroke-width="1.9" fill="none"/>
<g transform="translate(0,0)">
<rect x="573.2" y="553.4" width="155.8" height="180.6" rx="3.5" stroke-width="1.6" fill="none"/>
<circle cx="580.5" cy="561" r="2.9" fill="#000" stroke="none"/>
<circle cx="721.7" cy="561" r="2.9" fill="#000" stroke="none"/>
<circle cx="580.5" cy="727.2" r="2.9" fill="#000" stroke="none"/>
<circle cx="721.6" cy="727.2" r="2.9" fill="#000" stroke="none"/>
<rect x="606.5" y="641" width="86.8" height="97" rx="2" stroke-width="1.3" fill="#fff"/>
<circle cx="610" cy="645.6" r="2.3" fill="#000" stroke="none"/>
<circle cx="690" cy="645.6" r="2.3" fill="#000" stroke="none"/>
<circle cx="610" cy="728" r="2.3" fill="#000" stroke="none"/>
<circle cx="690" cy="728" r="2.3" fill="#000" stroke="none"/>
<rect x="693.3" y="641" width="28.7" height="54.5" rx="2" stroke-width="1.3" fill="#fff"/>
<circle cx="706.9" cy="645.8" r="2.4" fill="#000" stroke="none"/>
<circle cx="706.9" cy="687" r="2.4" fill="#000" stroke="none"/>
<rect x="614.5" y="651.3" width="71.1" height="71.4" rx="0" stroke-width="1.6" fill="none"/>
<rect x="621.9" y="660.3" width="56.1" height="31.2" rx="0" stroke-width="1.6" fill="none"/>
<circle cx="650" cy="710" r="8.6" stroke-width="4.4" fill="none"/>
<line x1="656.50" y1="711.12" x2="659.46" y2="711.62" stroke="#fff" stroke-width="1.1"/>
<line x1="655.73" y1="713.27" x2="658.34" y2="714.76" stroke="#fff" stroke-width="1.1"/>
<line x1="654.27" y1="715.04" x2="656.20" y2="717.33" stroke="#fff" stroke-width="1.1"/>
<line x1="652.29" y1="716.19" x2="653.32" y2="719.01" stroke="#fff" stroke-width="1.1"/>
<line x1="650.03" y1="716.60" x2="650.04" y2="719.60" stroke="#fff" stroke-width="1.1"/>
<line x1="647.77" y1="716.21" x2="646.76" y2="719.04" stroke="#fff" stroke-width="1.1"/>
<line x1="645.78" y1="715.08" x2="643.86" y2="717.38" stroke="#fff" stroke-width="1.1"/>
<line x1="644.30" y1="713.33" x2="641.71" y2="714.84" stroke="#fff" stroke-width="1.1"/>
<line x1="643.51" y1="711.18" x2="640.55" y2="711.71" stroke="#fff" stroke-width="1.1"/>
<line x1="643.50" y1="708.88" x2="640.54" y2="708.38" stroke="#fff" stroke-width="1.1"/>
<line x1="644.27" y1="706.73" x2="641.66" y2="705.24" stroke="#fff" stroke-width="1.1"/>
<line x1="645.73" y1="704.96" x2="643.80" y2="702.67" stroke="#fff" stroke-width="1.1"/>
<line x1="647.71" y1="703.81" x2="646.68" y2="700.99" stroke="#fff" stroke-width="1.1"/>
<line x1="649.97" y1="703.40" x2="649.96" y2="700.40" stroke="#fff" stroke-width="1.1"/>
<line x1="652.23" y1="703.79" x2="653.24" y2="700.96" stroke="#fff" stroke-width="1.1"/>
<line x1="654.22" y1="704.92" x2="656.14" y2="702.62" stroke="#fff" stroke-width="1.1"/>
<line x1="655.70" y1="706.67" x2="658.29" y2="705.16" stroke="#fff" stroke-width="1.1"/>
<line x1="656.49" y1="708.82" x2="659.45" y2="708.29" stroke="#fff" stroke-width="1.1"/>
<line x1="650" y1="701" x2="650" y2="719" stroke-width="1.3"/>
<path d="M637.9,705.1 A13,13 0 0 1 662.1,705.1" stroke-width="2.2" fill="none"/>
<line x1="621.5" y1="705" x2="628.5" y2="705" stroke-width="2.2"/>
<line x1="665.5" y1="699" x2="671.5" y2="699" stroke-width="2.2"/>
<path d="M627,698.5 H632 V701" stroke-width="1.4" fill="none"/>
<path d="M603,739.7 H701 V755.8 H603 Z" stroke-width="1.6" fill="none"/>
<path d="M603,735.5 H586 Q579,735.5 579,745.7 Q579,756 586,756 H603" stroke-width="1.6" fill="none"/>
<ellipse cx="591" cy="746" rx="5" ry="6" stroke-width="2.2"/>
<line x1="605" y1="752.4" x2="699" y2="752.4" stroke-width="1.4"/>
<line x1="626" y1="754" x2="672" y2="754" stroke-width="2.4" stroke="#555"/>
<path d="M611.5,747.6 V742 Q612,740 615,740 H619 Q621.6,740.5 621.6,743 V747.6 M609,747.6 H623 M621.6,745 L629,742" stroke-width="1.4" fill="none"/>
<path d="M691.2,747.6 V742 Q690.7,740 687.7,740 H683.7 Q681,740.5 681,743 V747.6 M693.6,747.6 H679.6 M681,745 L673.6,742" stroke-width="1.4" fill="none"/>
<line x1="608.2" y1="756" x2="605" y2="787.6" stroke-width="1.6"/>
<line x1="614" y1="756" x2="615.4" y2="787.6" stroke-width="1.6"/>
<line x1="688.8" y1="756" x2="687.4" y2="787.6" stroke-width="1.6"/>
<line x1="694" y1="756" x2="696.6" y2="787.6" stroke-width="1.6"/>
<line x1="634.2" y1="756" x2="634.2" y2="783" stroke-width="1.6"/>
<line x1="668" y1="756" x2="668" y2="783" stroke-width="1.6"/>
<path d="M622.5,783.5 Q624,781 628,781 H675 Q679,781 681,783.5" stroke-width="1.4" fill="none"/>
<ellipse cx="650.5" cy="779" rx="6" ry="6.5" stroke-width="1.5" fill="#fff"/>
<ellipse cx="650.5" cy="778" rx="2.8" ry="3.2" stroke-width="1.2"/>
<line x1="650.5" y1="772" x2="650.5" y2="786" stroke-width="1.2"/>
</g>
<g transform="translate(192.6,0)">
<rect x="573.2" y="553.4" width="155.8" height="180.6" rx="3.5" stroke-width="1.6" fill="none"/>
<circle cx="580.5" cy="561" r="2.9" fill="#000" stroke="none"/>
<circle cx="721.7" cy="561" r="2.9" fill="#000" stroke="none"/>
<circle cx="580.5" cy="727.2" r="2.9" fill="#000" stroke="none"/>
<circle cx="721.6" cy="727.2" r="2.9" fill="#000" stroke="none"/>
<rect x="606.5" y="641" width="86.8" height="97" rx="2" stroke-width="1.3" fill="#fff"/>
<circle cx="610" cy="645.6" r="2.3" fill="#000" stroke="none"/>
<circle cx="690" cy="645.6" r="2.3" fill="#000" stroke="none"/>
<circle cx="610" cy="728" r="2.3" fill="#000" stroke="none"/>
<circle cx="690" cy="728" r="2.3" fill="#000" stroke="none"/>
<rect x="693.3" y="641" width="28.7" height="54.5" rx="2" stroke-width="1.3" fill="#fff"/>
<circle cx="706.9" cy="645.8" r="2.4" fill="#000" stroke="none"/>
<circle cx="706.9" cy="687" r="2.4" fill="#000" stroke="none"/>
<rect x="614.5" y="651.3" width="71.1" height="71.4" rx="0" stroke-width="1.6" fill="none"/>
<rect x="621.9" y="660.3" width="56.1" height="31.2" rx="0" stroke-width="1.6" fill="none"/>
<circle cx="650" cy="710" r="8.6" stroke-width="4.4" fill="none"/>
<line x1="656.50" y1="711.12" x2="659.46" y2="711.62" stroke="#fff" stroke-width="1.1"/>
<line x1="655.73" y1="713.27" x2="658.34" y2="714.76" stroke="#fff" stroke-width="1.1"/>
<line x1="654.27" y1="715.04" x2="656.20" y2="717.33" stroke="#fff" stroke-width="1.1"/>
<line x1="652.29" y1="716.19" x2="653.32" y2="719.01" stroke="#fff" stroke-width="1.1"/>
<line x1="650.03" y1="716.60" x2="650.04" y2="719.60" stroke="#fff" stroke-width="1.1"/>
<line x1="647.77" y1="716.21" x2="646.76" y2="719.04" stroke="#fff" stroke-width="1.1"/>
<line x1="645.78" y1="715.08" x2="643.86" y2="717.38" stroke="#fff" stroke-width="1.1"/>
<line x1="644.30" y1="713.33" x2="641.71" y2="714.84" stroke="#fff" stroke-width="1.1"/>
<line x1="643.51" y1="711.18" x2="640.55" y2="711.71" stroke="#fff" stroke-width="1.1"/>
<line x1="643.50" y1="708.88" x2="640.54" y2="708.38" stroke="#fff" stroke-width="1.1"/>
<line x1="644.27" y1="706.73" x2="641.66" y2="705.24" stroke="#fff" stroke-width="1.1"/>
<line x1="645.73" y1="704.96" x2="643.80" y2="702.67" stroke="#fff" stroke-width="1.1"/>
<line x1="647.71" y1="703.81" x2="646.68" y2="700.99" stroke="#fff" stroke-width="1.1"/>
<line x1="649.97" y1="703.40" x2="649.96" y2="700.40" stroke="#fff" stroke-width="1.1"/>
<line x1="652.23" y1="703.79" x2="653.24" y2="700.96" stroke="#fff" stroke-width="1.1"/>
<line x1="654.22" y1="704.92" x2="656.14" y2="702.62" stroke="#fff" stroke-width="1.1"/>
<line x1="655.70" y1="706.67" x2="658.29" y2="705.16" stroke="#fff" stroke-width="1.1"/>
<line x1="656.49" y1="708.82" x2="659.45" y2="708.29" stroke="#fff" stroke-width="1.1"/>
<line x1="650" y1="701" x2="650" y2="719" stroke-width="1.3"/>
<path d="M637.9,705.1 A13,13 0 0 1 662.1,705.1" stroke-width="2.2" fill="none"/>
<line x1="621.5" y1="705" x2="628.5" y2="705" stroke-width="2.2"/>
<line x1="665.5" y1="699" x2="671.5" y2="699" stroke-width="2.2"/>
<path d="M627,698.5 H632 V701" stroke-width="1.4" fill="none"/>
<path d="M601,739.7 H699 V755.8 H601 Z" stroke-width="1.6" fill="none"/>
<path d="M699,735.5 H714 Q721.5,735.5 721.5,745.7 Q721.5,756 714,756 H699" stroke-width="1.6" fill="none"/>
<ellipse cx="711.5" cy="746" rx="5" ry="6" stroke-width="2.2"/>
<line x1="605" y1="752.4" x2="699" y2="752.4" stroke-width="1.4"/>
<line x1="626" y1="754" x2="672" y2="754" stroke-width="2.4" stroke="#555"/>
<path d="M611.5,747.6 V742 Q612,740 615,740 H619 Q621.6,740.5 621.6,743 V747.6 M609,747.6 H623 M621.6,745 L629,742" stroke-width="1.4" fill="none"/>
<path d="M691.2,747.6 V742 Q690.7,740 687.7,740 H683.7 Q681,740.5 681,743 V747.6 M693.6,747.6 H679.6 M681,745 L673.6,742" stroke-width="1.4" fill="none"/>
<line x1="608.2" y1="756" x2="605" y2="787.6" stroke-width="1.6"/>
<line x1="614" y1="756" x2="615.4" y2="787.6" stroke-width="1.6"/>
<line x1="688.8" y1="756" x2="687.4" y2="787.6" stroke-width="1.6"/>
<line x1="694" y1="756" x2="696.6" y2="787.6" stroke-width="1.6"/>
<line x1="634.2" y1="756" x2="634.2" y2="783" stroke-width="1.6"/>
<line x1="668" y1="756" x2="668" y2="783" stroke-width="1.6"/>
<path d="M622.5,783.5 Q624,781 628,781 H675 Q679,781 681,783.5" stroke-width="1.4" fill="none"/>
<ellipse cx="650.5" cy="779" rx="6" ry="6.5" stroke-width="1.5" fill="#fff"/>
<ellipse cx="650.5" cy="778" rx="2.8" ry="3.2" stroke-width="1.2"/>
<line x1="650.5" y1="772" x2="650.5" y2="786" stroke-width="1.2"/>
</g>
<line x1="651" y1="544.6" x2="651" y2="887" stroke-width="1.5" stroke-dasharray="16,5,5,5"/>
<line x1="843.6" y1="544.6" x2="843.6" y2="887" stroke-width="1.5" stroke-dasharray="16,5,5,5"/>
<path d="M599.1,787.6 H702.5 M599.1,787.6 V836 Q599.1,841 602,842 L604,844.1 H695" stroke-width="1.6" fill="none"/>
<line x1="702.5" y1="787.6" x2="702.5" y2="800" stroke-width="1.6"/>
<path d="M620.6,844.8 L621.2,850.6 Q622,853.2 626,853.2 H631.6" stroke-width="1.4" fill="none"/>
<path d="M623.8,853.2 L624.8,886.4 H642 V878 Q642,873 647.2,872.7" stroke-width="1.6" fill="none"/>
<path d="M627.7,854.5 Q632,866 651.1,873.4 Q680,880 720,881.2 Q745,882 760,878" stroke-width="1.6" fill="none"/>
<path d="M680,842 Q686,836 692,842 Q696,846 694,848" stroke-width="1.4" fill="none"/>
<path d="M791.8,799 V787.8 H895.6 V812.4 Q899.8,813 899.8,818 V838 Q899.8,843.6 894,843.6 H797" stroke-width="1.6" fill="none"/>
<path d="M797.2,811.2 Q815,812 830.8,813.6 H863.2" stroke-width="1.6" fill="none"/>
<path d="M830.5,813.6 Q835,828 830.5,843" stroke-width="1.6" fill="none"/>
<path d="M834,813.6 Q838.5,828 834,843" stroke-width="1.4" fill="none"/>
<path d="M852,872.5 V887 H871 V852 Q871,846 876,843.6" stroke-width="1.6" fill="none"/>
<path d="M760,878 Q800,882 820,880 Q840,876 846,872 Q860,866 871,852" stroke-width="1.6" fill="none"/>
<path d="M806,787.8 Q808,783 812,783 H870 Q875,783 877,787.8" stroke-width="1.4" fill="none"/>
<circle cx="747.6" cy="828" r="52.5" stroke-width="1.6" fill="#fff"/>
<circle cx="747.6" cy="828" r="42.5" stroke-width="1.6" fill="none" stroke-dasharray="14,3,4,3"/>
<circle cx="747.6" cy="828" r="35.2" stroke-width="1.6" fill="none"/>
<circle cx="747.6" cy="828" r="19.2" stroke-width="1.6" fill="none"/>
<circle cx="717.6" cy="798" r="5.8" stroke-width="1.6" fill="none"/>
<line x1="713.6" y1="802" x2="721.6" y2="794" stroke-width="1.4"/>
<circle cx="777.6" cy="798" r="5.8" stroke-width="1.6" fill="none"/>
<line x1="773.6" y1="794" x2="781.6" y2="802" stroke-width="1.4"/>
<circle cx="717.6" cy="858" r="5.8" stroke-width="1.6" fill="none"/>
<line x1="713.6" y1="854" x2="721.6" y2="862" stroke-width="1.4"/>
<circle cx="777.6" cy="858" r="5.8" stroke-width="1.6" fill="none"/>
<line x1="773.6" y1="862" x2="781.6" y2="854" stroke-width="1.4"/>
<line x1="713.6" y1="862" x2="721.6" y2="854" stroke-width="1.4"/>
<line x1="695" y1="828.3" x2="800" y2="828.3" stroke-width="1.5" stroke-dasharray="14,4,5,4"/>
<line x1="747.5" y1="782" x2="747.5" y2="890" stroke-width="1.5" stroke-dasharray="14,4,5,4"/>
<path d="M738,879 V886.5 H758 V879" stroke-width="1.6" fill="none"/>
<rect x="744.6" y="765" width="5.6" height="9.6" rx="0" stroke-width="1.4" fill="none"/>
<line x1="744.6" y1="768.5" x2="750.2" y2="768.5" stroke-width="1.4"/>
<line x1="744.6" y1="771.5" x2="750.2" y2="771.5" stroke-width="1.4"/>
<ellipse cx="753" cy="718.5" rx="9.5" ry="4.2" stroke-width="1.9"/>
<ellipse cx="753.5" cy="723.5" rx="9.5" ry="4.2" stroke-width="1.9"/>
<ellipse cx="753" cy="728.5" rx="9" ry="4" stroke-width="1.9"/>
<ellipse cx="752" cy="733.5" rx="8.5" ry="4" stroke-width="1.9"/>
<ellipse cx="749" cy="741" rx="10" ry="3.4" stroke-width="1.9"/>
<ellipse cx="748" cy="746" rx="10" ry="3.4" stroke-width="1.9"/>
<ellipse cx="748.5" cy="751" rx="9.5" ry="3.2" stroke-width="1.9"/>
<ellipse cx="748" cy="755.5" rx="8" ry="3" stroke-width="1.9"/>
<path d="M741,758 L747.5,765 L754,758" stroke-width="1.6" fill="none"/>
<path d="M762,735 Q770,742 778,737 Q786,733 790,740 Q792,746 798,744" stroke-width="2.4" fill="none"/>
<rect x="781" y="743.4" width="12" height="4.6" rx="0" stroke-width="1.4" fill="#000"/>
</svg></body></html>
